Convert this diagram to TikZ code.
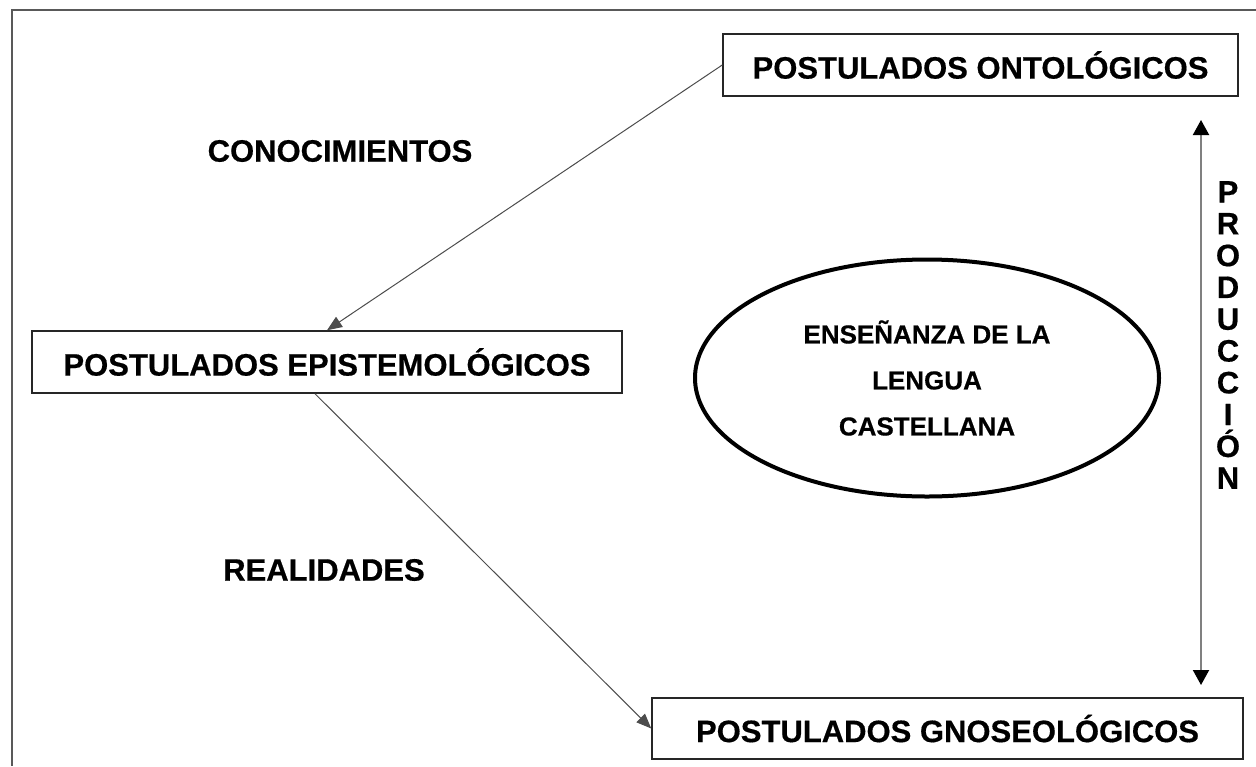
\documentclass[tikz,border=0pt]{standalone}
\usepackage{fontspec}
\setmainfont{Liberation Sans}[BoldFeatures={FakeBold=0.5}]
\usetikzlibrary{arrows.meta,shapes.geometric}
\tikzset{
  postbox/.style={draw=black!85, line width=1.5pt, rectangle, inner sep=0pt,
    minimum height=62pt, font=\bfseries\fontsize{31}{36}\selectfont},
  lbl/.style={font=\bfseries\fontsize{31}{36}\selectfont, inner sep=0pt},
  conn/.style={draw=black!70, line width=1pt, -{Triangle[length=15pt,width=12pt]}},
  frame/.style={draw=black!65, line width=2pt},
}
\begin{document}
\begin{tikzpicture}[x=1pt,y=-1pt]
\useasboundingbox (0,0) rectangle (1256,766);
% frame
\draw[frame] (1256,9.5) -- (12,9.5) -- (12,766);
% boxes
\node[postbox, minimum width=515pt] (ont) at (980.5,65) {POSTULADOS ONTOLÓGICOS};
\node[postbox, minimum width=590pt] (epi) at (327,362) {POSTULADOS EPISTEMOLÓGICOS};
\node[postbox, minimum width=591pt, minimum height=61pt] (gno) at (947.5,728.5) {POSTULADOS GNOSEOLÓGICOS};
% ellipse
\node[ellipse, draw=black, line width=4pt, minimum width=464pt, minimum height=237pt,
  align=center, font=\bfseries\fontsize{26}{46}\selectfont] (ens) at (927,378)
  {ENSEÑANZA DE LA\\LENGUA\\CASTELLANA};
% labels
\node[lbl] (con) at (340,151) {CONOCIMIENTOS};
\node[lbl] (rea) at (324,570) {REALIDADES};
\node[lbl, align=center, font=\bfseries\fontsize{31}{31.8}\selectfont] (pro) at (1228,335)
  {P\\R\\O\\D\\U\\C\\C\\I\\Ó\\N};
% connectors
\draw[conn] (ont.west) -- (epi.north);
\draw[conn] ([xshift=-12pt]epi.south) -- (gno.west);
\coordinate (ptop) at (1201,120);
\coordinate (pbot) at (1201,685);
\draw[draw=black!50, line width=2pt, {Triangle[length=15pt,width=16pt,color=black]}-{Triangle[length=15pt,width=16pt,color=black]}] (ptop) -- (pbot);
\end{tikzpicture}
\end{document}
